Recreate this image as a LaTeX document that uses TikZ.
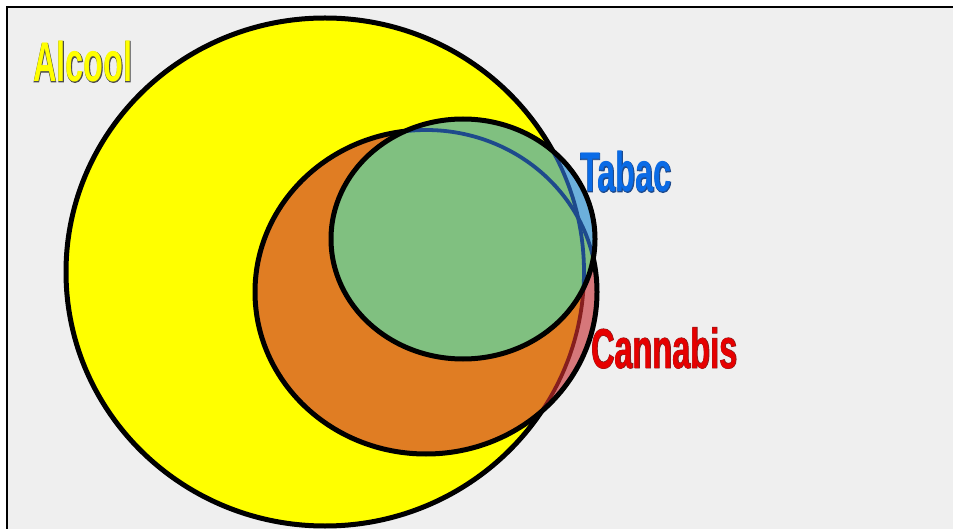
\documentclass[tikz,border=0pt]{standalone}
\usepackage{fontspec}
\newfontfamily\lblfont{Liberation Sans}[FakeStretch=0.58]
\newfontfamily\lbledge{Liberation Sans}[FakeStretch=0.58,FakeBold=1.6]
\definecolor{paper}{HTML}{EFEFEF}
\definecolor{alco}{HTML}{FFFF00}
\definecolor{canna}{HTML}{E07D23}
\definecolor{cannaout}{HTML}{D6777A}
\definecolor{cannaline}{HTML}{861E1E}
\definecolor{taba}{HTML}{80C080}
\definecolor{tabaout}{HTML}{6CB0DC}
\definecolor{tabaline}{HTML}{1E4A8C}
\definecolor{tabatext}{HTML}{0A6BE6}
\definecolor{cannatext}{HTML}{E60000}
\newcommand{\biglabel}[5]{%
 \node[lbl, text=#4, font=\lbledge\bfseries\fontsize{56}{56}\selectfont] at (#2) {#5};
 \node[lbl, text=#3] (#1) at (#2) {#5};}
\begin{document}
\begin{tikzpicture}[x=1pt, y=-1pt,
 outline/.style={black, line width=5pt},
 seen/.style={line width=3.8pt},
 lbl/.style={anchor=base west, inner sep=0pt, font=\lblfont\bfseries\fontsize{56}{56}\selectfont}]
 \useasboundingbox (0,0) rectangle (953,529);
 \fill[white] (0,0) rectangle (953,529);
 \fill[paper] (7,7) rectangle (953,529);
 \draw[black, line width=2.5pt] (7,529) -- (7,7) -- (953,7);
 % Alcool
 \begin{scope}
 \clip (7,7) rectangle (953,529);
 \fill[alco] (325,272) ellipse (259 and 254);
 \draw[outline] (325,272) ellipse (259 and 254);
 \end{scope}
 % Cannabis
 \begin{scope}
 \clip (426,292) ellipse (171 and 162);
 \fill[cannaout] (426,292) ellipse (171 and 162);
 \begin{scope}
 \clip (325,272) ellipse (259 and 254);
 \fill[canna] (426,292) ellipse (171 and 162);
 \end{scope}
 \draw[cannaline, seen] (325,272) ellipse (259 and 254);
 \end{scope}
 \draw[outline] (426,292) ellipse (171 and 162);
 % Tabac
 \begin{scope}
 \clip (463,239) ellipse (132 and 120);
 \fill[tabaout] (463,239) ellipse (132 and 120);
 \begin{scope}
 \clip (325,272) ellipse (259 and 254);
 \fill[taba] (463,239) ellipse (132 and 120);
 \end{scope}
 \begin{scope}
 \clip (426,292) ellipse (171 and 162);
 \fill[taba] (463,239) ellipse (132 and 120);
 \end{scope}
 \draw[tabaline, seen] (325,272) ellipse (259 and 254);
 \draw[tabaline, seen] (426,292) ellipse (171 and 162);
 \end{scope}
 \draw[outline] (463,239) ellipse (132 and 120);
 % labels
 \biglabel{alcool}{33,82}{alco}{black!70}{Alcool}
 \biglabel{tabac}{580,192}{tabatext}{tabaline}{Tabac}
 \biglabel{cannabis}{591,368}{cannatext}{cannaline}{Cannabis}
\end{tikzpicture}
\end{document}
